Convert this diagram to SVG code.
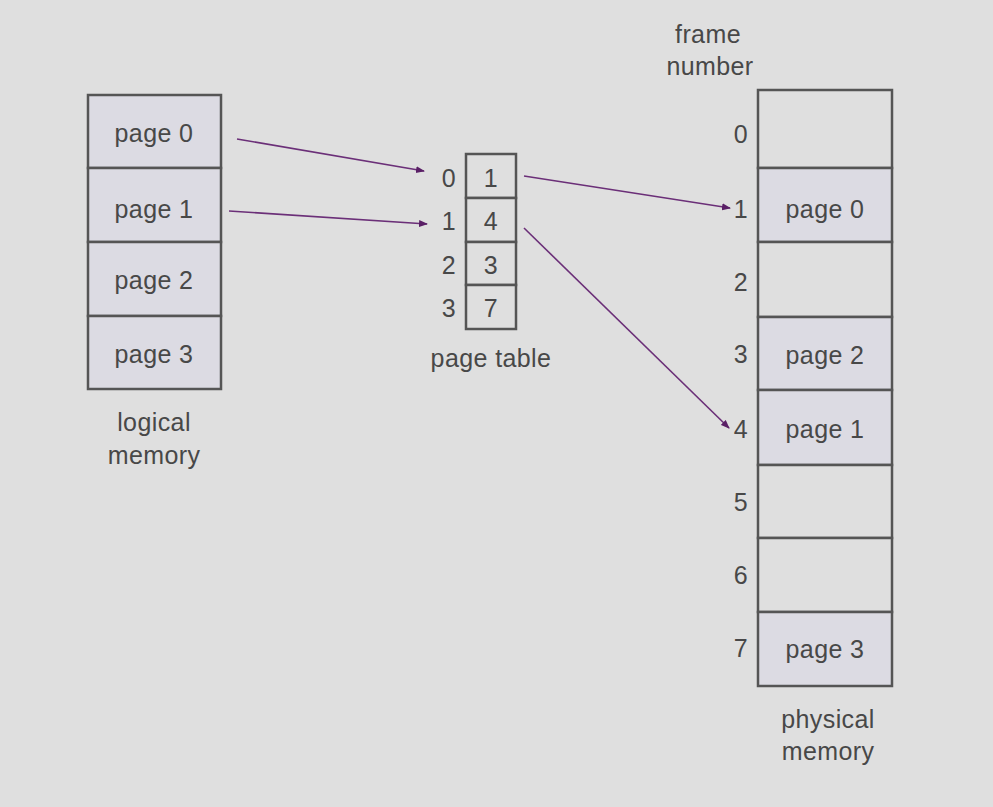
<svg xmlns="http://www.w3.org/2000/svg" width="993" height="807" viewBox="0 0 993 807">
<defs>
<style>
.t{font-family:"Liberation Sans",Arial,sans-serif;font-size:25px;fill:#484848;text-anchor:middle;letter-spacing:0.4px}
.cell{stroke:#555;stroke-width:2.5}
.pg{fill:#dcdbe3}
.em{fill:#dfdfdf}
.conn{stroke:#6b2f78;stroke-width:1.6;fill:none;marker-end:url(#ah)}
</style>
<marker id="ah" markerUnits="userSpaceOnUse" markerWidth="9" markerHeight="8" refX="8" refY="4" orient="auto">
<path d="M0,0.5 L9,4 L0,7.5 Z" fill="#5a1f66"/>
</marker>
</defs>
<rect width="993" height="807" fill="#dfdfdf"/>
<g id="logical-memory">
<rect class="cell pg" x="88" y="95" width="133" height="73"/>
<rect class="cell pg" x="88" y="168" width="133" height="74"/>
<rect class="cell pg" x="88" y="242" width="133" height="74"/>
<rect class="cell pg" x="88" y="316" width="133" height="73"/>
<text class="t" x="154" y="142">page 0</text>
<text class="t" x="154" y="218">page 1</text>
<text class="t" x="154" y="289">page 2</text>
<text class="t" x="154" y="363">page 3</text>
<text class="t" x="154" y="431">logical</text>
<text class="t" x="154" y="464">memory</text>
</g>
<g id="page-table">
<rect class="cell em" x="466" y="154" width="50" height="44"/>
<rect class="cell em" x="466" y="198" width="50" height="44"/>
<rect class="cell em" x="466" y="242" width="50" height="43"/>
<rect class="cell em" x="466" y="285" width="50" height="44"/>
<text class="t" x="449" y="187">0</text>
<text class="t" x="449" y="230">1</text>
<text class="t" x="449" y="274">2</text>
<text class="t" x="449" y="317">3</text>
<text class="t" x="491" y="187">1</text>
<text class="t" x="491" y="230">4</text>
<text class="t" x="491" y="274">3</text>
<text class="t" x="491" y="317">7</text>
<text class="t" x="491" y="367">page table</text>
</g>
<g id="physical-memory">
<rect class="cell em" x="758" y="90" width="134" height="78"/>
<rect class="cell pg" x="758" y="168" width="134" height="74"/>
<rect class="cell em" x="758" y="242" width="134" height="75"/>
<rect class="cell pg" x="758" y="317" width="134" height="73"/>
<rect class="cell pg" x="758" y="390" width="134" height="75"/>
<rect class="cell em" x="758" y="465" width="134" height="73"/>
<rect class="cell em" x="758" y="538" width="134" height="74"/>
<rect class="cell pg" x="758" y="612" width="134" height="74"/>
<text class="t" x="825" y="218">page 0</text>
<text class="t" x="825" y="364">page 2</text>
<text class="t" x="825" y="438">page 1</text>
<text class="t" x="825" y="658">page 3</text>
<text class="t" x="741" y="143">0</text>
<text class="t" x="741" y="218">1</text>
<text class="t" x="741" y="291">2</text>
<text class="t" x="741" y="363">3</text>
<text class="t" x="741" y="438">4</text>
<text class="t" x="741" y="511">5</text>
<text class="t" x="741" y="584">6</text>
<text class="t" x="741" y="657">7</text>
<text class="t" x="708" y="43">frame</text>
<text class="t" x="710" y="75">number</text>
<text class="t" x="828" y="728">physical</text>
<text class="t" x="828" y="760">memory</text>
</g>
<g id="connectors">
<line class="conn" x1="237" y1="139" x2="424" y2="171"/>
<line class="conn" x1="229" y1="211" x2="427" y2="224"/>
<line class="conn" x1="524" y1="176" x2="730" y2="208"/>
<line class="conn" x1="524" y1="228" x2="729" y2="428"/>
</g>
</svg>
